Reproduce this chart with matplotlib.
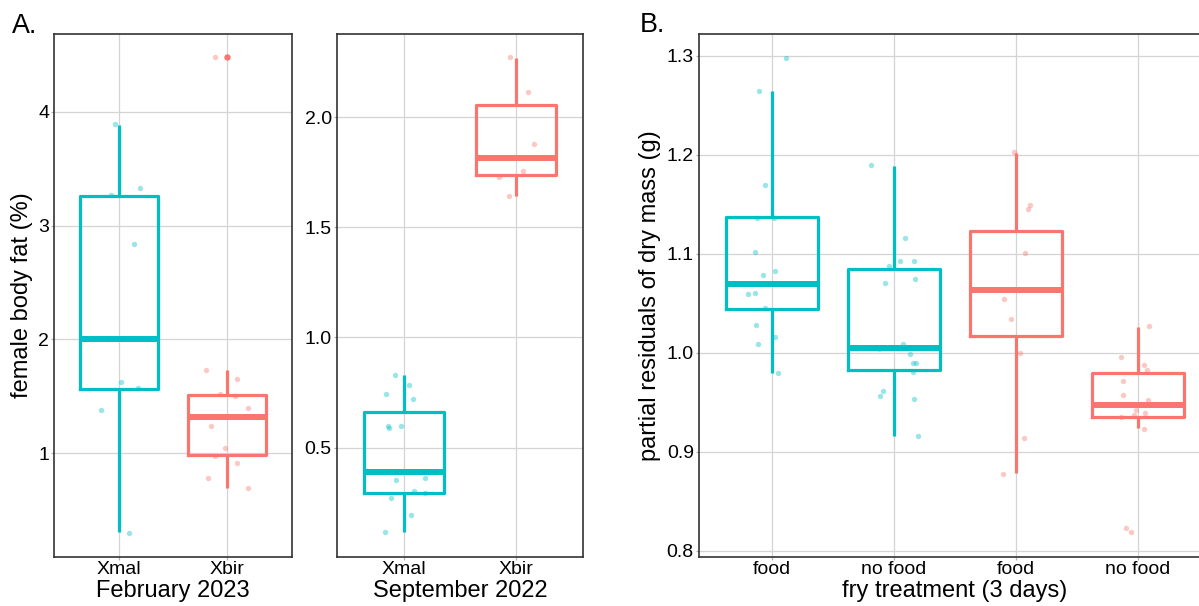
import numpy as np
import matplotlib.pyplot as plt

plt.rcParams['font.family'] = ['Liberation Sans', 'DejaVu Sans']

TEAL = '#00BFC4'
RED = '#F8766D'

# Panel A, February 2023
feb_groups = ['Xmal', 'Xbir']
feb_q1 = [1.567, 0.983]
feb_med = [2.00, 1.316]
feb_q3 = [3.26, 1.516]
feb_lo = [0.307, 0.70]
feb_hi = [3.885, 1.73]
feb_fliers = [[], [4.476]]
feb_xmal_y = [3.89, 3.33, 3.27, 2.84, 2.00, 1.63, 1.57, 1.38, 0.30]
feb_xmal_dx = [-0.04, 0.19, -0.07, 0.14, -0.10, 0.02, 0.18, -0.17, 0.09]
feb_xbir_y = [4.476, 1.73, 1.65, 1.52, 1.50, 1.40, 1.24, 1.05, 0.98, 0.92, 0.78, 0.70]
feb_xbir_dx = [-0.11, -0.20, 0.09, -0.07, 0.07, 0.19, -0.15, -0.02, -0.11, 0.09, -0.18, 0.19]

# Panel A, September 2022
sep_groups = ['Xmal', 'Xbir']
sep_q1 = [0.295, 1.735]
sep_med = [0.388, 1.814]
sep_q3 = [0.663, 2.056]
sep_lo = [0.116, 1.64]
sep_hi = [0.83, 2.268]
sep_xmal_y = [0.83, 0.786, 0.742, 0.72, 0.596, 0.589, 0.60, 0.353, 0.363, 0.304, 0.295, 0.272, 0.195, 0.116]
sep_xmal_dx = [-0.08, 0.047, -0.157, 0.08, -0.145, -0.134, -0.027, -0.071, 0.19, 0.086, 0.184, -0.113, 0.062, -0.166]
sep_xbir_y = [2.272, 2.116, 1.877, 1.754, 1.73, 1.642]
sep_xbir_dx = [-0.053, 0.11, 0.163, 0.059, -0.154, -0.065]

# Panel B, fry treatment
fry_labels = ['food', 'no food', 'food', 'no food']
fry_colors = [TEAL, TEAL, RED, RED]
fry_q1 = [1.0441, 0.9825, 1.0169, 0.9354]
fry_med = [1.0694, 1.005, 1.0633, 0.9469]
fry_q3 = [1.1368, 1.0845, 1.1232, 0.9795]
fry_lo = [0.9798, 0.9159, 0.8782, 0.9236]
fry_hi = [1.2643, 1.189, 1.2024, 1.0263]
fry_y = [
    [1.2984, 1.2647, 1.1697, 1.136, 1.136, 1.1017, 1.0825, 1.0782, 1.0593, 1.0606, 1.0448, 1.028, 1.0085, 1.0155, 0.9795],
    [1.1893, 1.1162, 1.0876, 1.0923, 1.0929, 1.0701, 1.0741, 1.0034, 1.0088, 0.9984, 0.9899, 0.99, 0.9808, 0.9613, 0.9563, 0.9536, 0.9156],
    [1.203, 1.1492, 1.1452, 1.1004, 1.0542, 1.034, 1.0, 0.9141, 0.8778],
    [1.027, 0.996, 0.9876, 0.9822, 0.9711, 0.957, 0.9522, 0.9418, 0.9388, 0.9367, 0.9347, 0.9232, 0.8232, 0.8186],
]
fry_dx = [
    [0.115, -0.106, -0.06, -0.121, 0.021, -0.142, 0.027, -0.076, -0.197, -0.139, -0.06, -0.127, -0.112, 0.027, 0.051],
    [-0.184, 0.091, -0.042, 0.048, 0.169, -0.07, 0.175, -0.124, 0.073, 0.133, 0.157, 0.178, 0.154, -0.091, -0.112, 0.163, 0.196],
    [-0.012, 0.118, 0.097, 0.076, -0.1, -0.042, 0.033, 0.067, -0.103],
    [0.088, -0.136, 0.054, 0.076, -0.118, -0.124, 0.082, -0.012, 0.06, -0.033, -0.139, 0.054, -0.094, -0.054],
]

TICK_FS = 14.0
TITLE_FS = 17.0


def draw_boxes(ax, q1, med, q3, lo, hi, fliers, colors, width):
    for i in range(len(med)):
        c = colors[i]
        st = dict(q1=q1[i], med=med[i], q3=q3[i], whislo=lo[i], whishi=hi[i], fliers=fliers[i])
        ax.bxp([st], positions=[i + 1], widths=width, showcaps=False, showfliers=True,
               boxprops=dict(color=c, lw=2.3),
               whiskerprops=dict(color=c, lw=2.3, solid_capstyle='butt'),
               medianprops=dict(color=c, lw=4.3, solid_capstyle='butt'),
               flierprops=dict(marker='o', markerfacecolor=c, markeredgecolor='none', markersize=4.6))


def draw_points(ax, pos, dx, y, c):
    ax.scatter(pos + np.array(dx), y, s=15, color=c, alpha=0.4, lw=0, zorder=3)


def style(ax, title, with_ylabel=None, ylab_x=0.0):
    ax.grid(True, color='#d4d4d4', lw=0.9)
    ax.set_axisbelow(True)
    for s in ax.spines.values():
        s.set_color('#333333')
        s.set_linewidth(1.2)
    ax.tick_params(length=2.5, width=0.9, color='#b0b0b0', labelsize=TICK_FS, pad=1.0, labelcolor='black')
    ax.set_xlabel(title, fontsize=TITLE_FS, va='baseline')
    ax.xaxis.set_label_coords(0.5, -(597 - 556.6) / 522.6)
    if with_ylabel:
        ax.set_ylabel(with_ylabel, fontsize=TITLE_FS)
        ax.yaxis.set_label_coords(ylab_x, 0.5)


fig = plt.figure(figsize=(11.99, 6.06), dpi=100)
W, H = 1199.0, 606.0
bot = (H - 556.6) / H
hgt = (556.6 - 34) / H

ax1 = fig.add_axes([54 / W, bot, (292.3 - 54) / W, hgt])
ax2 = fig.add_axes([336.7 / W, bot, (583.3 - 336.7) / W, hgt])
ax3 = fig.add_axes([698.7 / W, bot, (1211 - 698.7) / W, hgt])

# February 2023
draw_boxes(ax1, feb_q1, feb_med, feb_q3, feb_lo, feb_hi, feb_fliers, [TEAL, RED], 0.72)
draw_points(ax1, 1, feb_xmal_dx, feb_xmal_y, TEAL)
draw_points(ax1, 2, feb_xbir_dx, feb_xbir_y, RED)
ax1.set_xlim(0.4, 2.6)
ax1.set_ylim(0.094, 4.682)
ax1.set_yticks([1, 2, 3, 4])
ax1.set_xticks([1, 2])
ax1.set_xticklabels(feb_groups)
style(ax1, 'February 2023', 'female body fat (%)', -0.09)

# September 2022
draw_boxes(ax2, sep_q1, sep_med, sep_q3, sep_lo, sep_hi, [[], []], [TEAL, RED], 0.72)
draw_points(ax2, 1, sep_xmal_dx, sep_xmal_y, TEAL)
draw_points(ax2, 2, sep_xbir_dx, sep_xbir_y, RED)
ax2.set_xlim(0.4, 2.6)
ax2.set_ylim(0.005, 2.377)
ax2.set_yticks([0.5, 1.0, 1.5, 2.0])
ax2.set_yticklabels(['0.5', '1.0', '1.5', '2.0'])
ax2.set_xticks([1, 2])
ax2.set_xticklabels(sep_groups)
style(ax2, 'September 2022')

# fry treatment
draw_boxes(ax3, fry_q1, fry_med, fry_q3, fry_lo, fry_hi, [[]] * 4, fry_colors, 0.75)
for i in range(4):
    draw_points(ax3, i + 1, fry_dx[i], fry_y[i], fry_colors[i])
ax3.set_xlim(0.4, 4.6)
ax3.set_ylim(0.794, 1.3222)
ax3.set_yticks([0.8, 0.9, 1.0, 1.1, 1.2, 1.3])
ax3.set_yticklabels(['0.8', '0.9', '1.0', '1.1', '1.2', '1.3'])
ax3.set_xticks([1, 2, 3, 4])
ax3.set_xticklabels(fry_labels)
style(ax3, 'fry treatment (3 days)', 'partial residuals of dry mass (g)', -0.074)

fig.text(12 / W, 1 - 33 / H, 'A.', fontsize=19.4, va='baseline')
fig.text(640 / W, 1 - 32 / H, 'B.', fontsize=19.4, va='baseline')

fig.savefig('out.png', dpi=100)
